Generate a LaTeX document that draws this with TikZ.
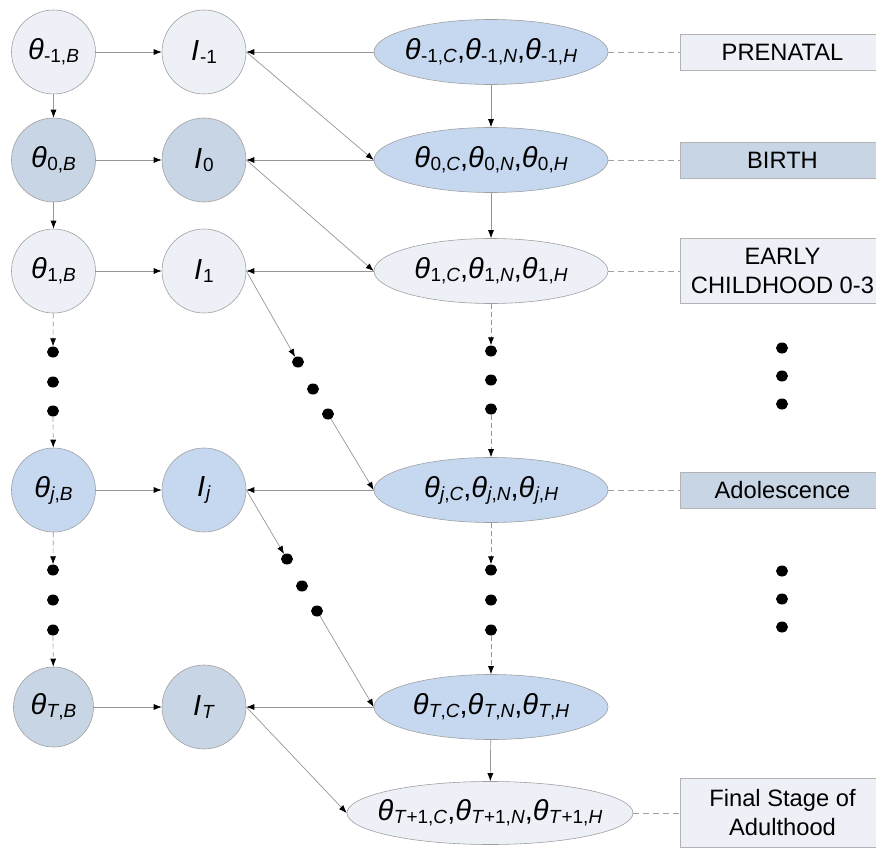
\documentclass[tikz,border=0pt]{standalone}
\usepackage{fontspec}
\setmainfont{Liberation Sans}
\usetikzlibrary{arrows.meta,shapes.geometric}
\definecolor{lightf}{RGB}{237,241,247}
\definecolor{bluef}{RGB}{197,216,240}
\definecolor{grayf}{RGB}{200,213,228}
\definecolor{strk}{RGB}{160,160,160}
\definecolor{linec}{RGB}{150,150,150}
\newcommand\thv[1]{\textit{θ}\kern0.3pt\raisebox{-3pt}{\fontsize{19}{19}\selectfont #1}}
\newcommand\Iv[1]{\textit{I}\kern1pt\raisebox{-3pt}{\fontsize{19}{19}\selectfont #1}}
\tikzset{
  circ/.style={circle, draw=strk, line width=0.6pt, minimum size=84pt, inner sep=0pt, font=\fontsize{29}{30}\selectfont},
  ell/.style={ellipse, draw=strk, line width=0.6pt, minimum width=234pt, minimum height=65pt, inner xsep=-40pt, inner ysep=0pt, font=\fontsize{29}{30}\selectfont},
  stage/.style={rectangle, draw=strk!80, line width=0.6pt, minimum width=205pt, minimum height=36pt, inner sep=0pt, align=center, font=\fontsize{23.7}{29}\selectfont},
  bdot/.style={ellipse, fill=black, minimum width=12pt, minimum height=11pt, inner sep=0pt},
  arr/.style={draw=linec, line width=0.7pt, -{Latex[length=8pt,width=6pt,color=black]}},
  darr/.style={arr, dash pattern=on 5pt off 3pt},
  dline/.style={draw=strk, line width=0.7pt, dash pattern=on 6pt off 4pt},
}
\begin{document}
\begin{tikzpicture}[x=1pt,y=-1pt]
\useasboundingbox (0,0) rectangle (876,848);
% left column
\node[circ, fill=lightf] (bm1) at (53.5,52) {\thv{-1,\textit{B}}};
\node[circ, fill=grayf] (b0) at (53.5,160) {\thv{0,\textit{B}}};
\node[circ, fill=lightf] (b1) at (53.5,271) {\thv{1,\textit{B}}};
\node[circ, fill=bluef] (bj) at (53.5,490) {\thv{\textit{j},\textit{B}}};
\node[circ, fill=grayf, minimum size=80pt] (bT) at (53.5,707) {\thv{\textit{T},\textit{B}}};
% I column
\node[circ, fill=lightf] (im1) at (204,52) {\Iv{-1}};
\node[circ, fill=grayf] (i0) at (204,160) {\Iv{0}};
\node[circ, fill=lightf] (i1) at (204,271) {\Iv{1}};
\node[circ, fill=bluef] (ij) at (204,490) {\Iv{\textit{j}}};
\node[circ, fill=grayf] (iT) at (204,707) {\Iv{\textit{T}}};
% ellipses
\node[ell, fill=bluef] (em1) at (491,52) {\thv{-1,\textit{C}},\thv{-1,\textit{N}},\thv{-1,\textit{H}}};
\node[ell, fill=bluef] (e0) at (491,160) {\thv{0,\textit{C}},\thv{0,\textit{N}},\thv{0,\textit{H}}};
\node[ell, fill=lightf] (e1) at (491,271) {\thv{1,\textit{C}},\thv{1,\textit{N}},\thv{1,\textit{H}}};
\node[ell, fill=bluef] (ej) at (491,490) {\thv{\textit{j},\textit{C}},\thv{\textit{j},\textit{N}},\thv{\textit{j},\textit{H}}};
\node[ell, fill=bluef] (eT) at (491,707) {\thv{\textit{T},\textit{C}},\thv{\textit{T},\textit{N}},\thv{\textit{T},\textit{H}}};
\node[ell, fill=lightf, minimum width=286pt, minimum height=63pt] (eT1) at (490,813) {\thv{\textit{T}+1,\textit{C}},\thv{\textit{T}+1,\textit{N}},\thv{\textit{T}+1,\textit{H}}};
% stage boxes
\node[stage, fill=lightf] (sp) at (782.5,52) {PRENATAL};
\node[stage, fill=grayf] (sb) at (782.5,160) {BIRTH};
\node[stage, fill=lightf, minimum height=65pt] (se) at (782.5,271) {EARLY\\CHILDHOOD 0-3};
\node[stage, fill=grayf] (sa) at (782.5,490) {Adolescence};
\node[stage, fill=lightf, minimum height=69pt] (sf) at (782.5,813) {Final Stage of\\Adulthood};
% dots
\node[bdot] (l1) at (53,352) {};
\node[bdot] (l2) at (53,382) {};
\node[bdot] (l3) at (53,411) {};
\node[bdot] (l4) at (53,570) {};
\node[bdot] (l5) at (53,600) {};
\node[bdot] (l6) at (53,630) {};
\node[bdot] (m1) at (491,351) {};
\node[bdot] (m2) at (491,380) {};
\node[bdot] (m3) at (491,409) {};
\node[bdot] (m4) at (491,570) {};
\node[bdot] (m5) at (491,600) {};
\node[bdot] (m6) at (491,630) {};
\node[bdot] (r1) at (782,348) {};
\node[bdot] (r2) at (782,376) {};
\node[bdot] (r3) at (782,404) {};
\node[bdot] (r4) at (782,571) {};
\node[bdot] (r5) at (782,599) {};
\node[bdot] (r6) at (782,627) {};
\node[bdot] (d1) at (298,362) {};
\node[bdot] (d2) at (313,389) {};
\node[bdot] (d3) at (328,414) {};
\node[bdot] (d4) at (287,559) {};
\node[bdot] (d5) at (302,586) {};
\node[bdot] (d6) at (317,611) {};
% horizontal B -> I
\draw[arr] (bm1) -- (im1);
\draw[arr] (b0) -- (i0);
\draw[arr] (b1) -- (i1);
\draw[arr] (bj) -- (ij);
\draw[arr] (bT) -- (iT);
% vertical left
\draw[arr] (bm1) -- (b0);
\draw[arr] (b0) -- (b1);
\draw[darr] (b1) -- (l1);
\draw[darr] (l3) -- (bj);
\draw[darr] (bj) -- (l4);
\draw[darr] (l6) -- (bT);
% ellipse -> I
\draw[arr] (em1.west) -- (im1.east);
\draw[arr] (e0.west) -- (i0.east);
\draw[arr] (e1.west) -- (i1.east);
\draw[arr] (ej.west) -- (ij.east);
\draw[arr] (eT.west) -- (iT.east);
% I -> next ellipse
\draw[arr] (im1.east) -- (e0.west);
\draw[arr] (i0.east) -- (e1.west);
\draw[arr] (i1.east) -- (d1);
\draw[arr] (d3) -- (ej.west);
\draw[arr] (ij.east) -- (d4);
\draw[arr] (d6) -- (eT.west);
\draw[arr] (iT.east) -- (eT1.west);
% ellipse vertical
\draw[arr] (em1) -- (e0);
\draw[arr] (e0) -- (e1);
\draw[darr] (e1) -- (m1);
\draw[darr] (m3) -- (ej);
\draw[darr] (ej) -- (m4);
\draw[darr] (m6) -- (eT);
\draw[arr] (eT) -- (eT1);
% stage dashed links
\draw[dline] (em1.east) -- (sp.west);
\draw[dline] (e0.east) -- (sb.west);
\draw[dline] (e1.east) -- (se.west);
\draw[dline] (ej.east) -- (sa.west);
\draw[dline] (eT1.east) -- (sf.west);
\end{tikzpicture}
\end{document}
